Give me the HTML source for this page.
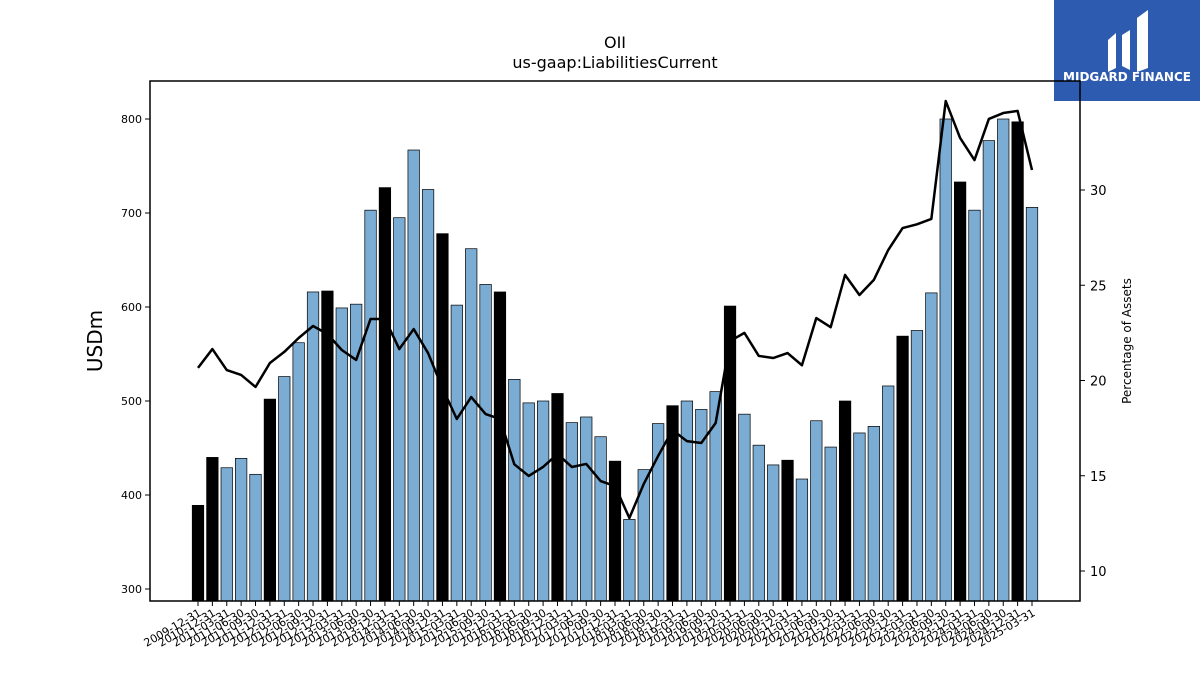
<!DOCTYPE html>
<html><head><meta charset="utf-8"><style>
body{margin:0;background:#fff;width:1200px;height:675px;overflow:hidden;font-family:"Liberation Sans","DejaVu Sans",sans-serif}
svg text{font-family:"DejaVu Sans","Liberation Sans",sans-serif}
</style></head><body>
<svg id="chart" width="1200" height="675" xmlns="http://www.w3.org/2000/svg">
<text x="615" y="48" text-anchor="middle" font-size="16">OII</text>
<text x="615" y="68" text-anchor="middle" font-size="16">us-gaap:LiabilitiesCurrent</text>
<text x="102" y="341" text-anchor="middle" font-size="20" transform="rotate(-90 102 341)">USDm</text>
<text x="1131" y="341" text-anchor="middle" font-size="12" transform="rotate(-90 1131 341)">Percentage of Assets</text>
<g id="logo">
<rect x="1054" y="0" width="146" height="101" fill="#2d5bb0"/>
<path d="M1108 40 L1116 33 L1116 68 L1108 72 Z" fill="#fff"/>
<path d="M1122 35 L1130 30 L1130 70 L1122 66 Z" fill="#fff"/>
<path d="M1137 18 L1148 10 L1148 68 L1137 72 Z" fill="#fff"/>
<text x="1127" y="81" text-anchor="middle" font-size="12" font-weight="bold" fill="#fff" font-family="Liberation Sans">MIDGARD FINANCE</text>
</g>
<g id="plot"></g>
</svg>
<script>
const categories=["2009-12-31","2010-12-31","2011-03-31","2011-06-30","2011-09-30","2011-12-31","2012-03-31","2012-06-30","2012-09-30","2012-12-31","2013-03-31","2013-06-30","2013-09-30","2013-12-31","2014-03-31","2014-06-30","2014-09-30","2014-12-31","2015-03-31","2015-06-30","2015-09-30","2015-12-31","2016-03-31","2016-06-30","2016-09-30","2016-12-31","2017-03-31","2017-06-30","2017-09-30","2017-12-31","2018-03-31","2018-06-30","2018-09-30","2018-12-31","2019-03-31","2019-06-30","2019-09-30","2019-12-31","2020-03-31","2020-06-30","2020-09-30","2020-12-31","2021-03-31","2021-06-30","2021-09-30","2021-12-31","2022-03-31","2022-06-30","2022-09-30","2022-12-31","2023-03-31","2023-06-30","2023-09-30","2023-12-31","2024-03-31","2024-06-30","2024-09-30","2024-12-31","2025-03-31"];
const liabilities=[389,440,429,439,422,502,526,562,616,617,599,603,703,727,695,767,725,678,602,662,624,616,523,498,500,508,477,483,462,436,374,427,476,495,500,491,510,601,486,453,432,437,417,479,451,500,466,473,516,569,575,615,800,733,703,777,800,797,706];
const pctAssets=[20.66,21.65,20.55,20.29,19.66,20.92,21.5,22.23,22.86,22.44,21.6,21.08,23.23,23.23,21.65,22.7,21.44,19.6,17.98,19.13,18.24,17.98,15.6,14.99,15.46,16.14,15.46,15.62,14.72,14.46,12.78,14.57,16.04,17.4,16.82,16.72,17.77,22.07,22.5,21.29,21.18,21.44,20.8,23.28,22.8,25.54,24.49,25.28,26.85,28.0,28.2,28.48,34.67,32.73,31.57,33.73,34.04,34.15,31.05];
const leftTicks=[300,400,500,600,700,800];
const rightTicks=[10,15,20,25,30];

const NS="http://www.w3.org/2000/svg";
const g=document.getElementById('plot');
const L=150,R=1080,T=81,B=601;
const x0=198,step=(1032-198)/(categories.length-1);
const xs=i=>x0+i*step;
const yL=v=>589-(v-300)*0.94;
const yR=v=>571-(v-10)*19.05;
function el(t,a){const e=document.createElementNS(NS,t);for(const k in a)e.setAttribute(k,a[k]);g.appendChild(e);return e;}
const bw=step*0.8;
categories.forEach((c,i)=>{
  const v=liabilities[i];const q4=c.endsWith("12-31");
  const r=el('rect',{x:xs(i)-bw/2,y:yL(v),width:bw,height:B-yL(v),fill:q4?'#000':'#7bacd4',stroke:'#000','stroke-width':0.7});
  
  
  const tk=el('line',{x1:xs(i),x2:xs(i),y1:B,y2:B+5,stroke:'#000','stroke-width':1});
  
  
  const t=el('text',{x:xs(i)+4,y:B+14,'font-size':11,'text-anchor':'end',transform:'rotate(-30 '+(xs(i)+4)+' '+(B+14)+')'});
  t.textContent=c;
  
  
});
const pts=pctAssets.map((v,i)=>xs(i)+','+yR(v)).join(' ');
const ln=el('polyline',{points:pts,fill:'none',stroke:'#000','stroke-width':2.5,'stroke-linejoin':'round'});


const fr=el('rect',{x:L,y:T,width:R-L,height:B-T,fill:'none',stroke:'#000','stroke-width':1.5});


leftTicks.forEach(v=>{
  const l=el('line',{x1:L-5,x2:L,y1:yL(v),y2:yL(v),stroke:'#000'});
  
  
  const t=el('text',{x:L-8,y:yL(v)+4,'font-size':11,'text-anchor':'end'});
  t.textContent=v;
  
  
});
rightTicks.forEach(v=>{
  const l=el('line',{x1:R,x2:R+5,y1:yR(v),y2:yR(v),stroke:'#000'});
  
  
  const t=el('text',{x:R+10,y:yR(v)+5,'font-size':13});
  t.textContent=v;
  
  
});
</script>
</body></html>
